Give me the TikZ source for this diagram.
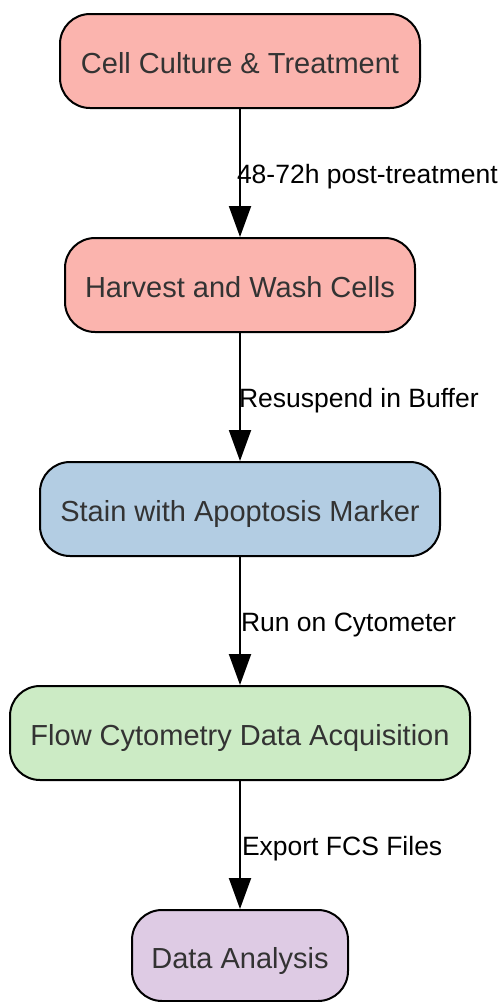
\documentclass[tikz,border=0pt]{standalone}
\usepackage{fontspec}
\setmainfont{Liberation Sans}
\usetikzlibrary{arrows.meta}
\definecolor{cpink}{HTML}{FBB4AE}
\definecolor{cblue}{HTML}{B3CDE3}
\definecolor{cgreen}{HTML}{CCEBC5}
\definecolor{cpurple}{HTML}{DECBE4}
\definecolor{ctext}{HTML}{333333}
\tikzset{
  stepbox/.style={draw=black, line width=2pt, rounded corners=30pt, inner sep=0pt,
    minimum height=94pt, text height=25pt, text depth=0pt, text=ctext, font=\fontsize{29}{34}\selectfont},
  flow/.style={line width=2pt, -{Triangle[length=31pt,width=22pt]}},
  elabel/.style={anchor=west, inner sep=0pt, xshift=-4pt, yshift=-4pt, text=black, font=\fontsize{26.5}{30}\selectfont}
}
\begin{document}
\begin{tikzpicture}[x=1pt,y=-1pt]
\useasboundingbox (0,0) rectangle (502,1002);
\node[stepbox, fill=cpink, minimum width=360pt] (a) at (240,61) {Cell Culture \& Treatment};
\node[stepbox, fill=cpink, minimum width=350pt] (b) at (240,285) {Harvest and Wash Cells};
\node[stepbox, fill=cblue, minimum width=400pt] (c) at (240,509) {Stain with Apoptosis Marker};
\node[stepbox, fill=cgreen, minimum width=460pt] (d) at (240,733) {Flow Cytometry Data Acquisition};
\node[stepbox, fill=cpurple, minimum width=216pt, minimum height=91pt] (e) at (240,955.5) {Data Analysis};
\draw[flow] (a) -- node[elabel] {48-72h post-treatment} (b);
\draw[flow] (b) -- node[elabel, xshift=2pt] {Resuspend in Buffer} (c);
\draw[flow] (c) -- node[elabel, xshift=4pt] {Run on Cytometer} (d);
\draw[flow] (d) -- node[elabel, xshift=5pt] {Export FCS Files} (e);
\end{tikzpicture}
\end{document}
